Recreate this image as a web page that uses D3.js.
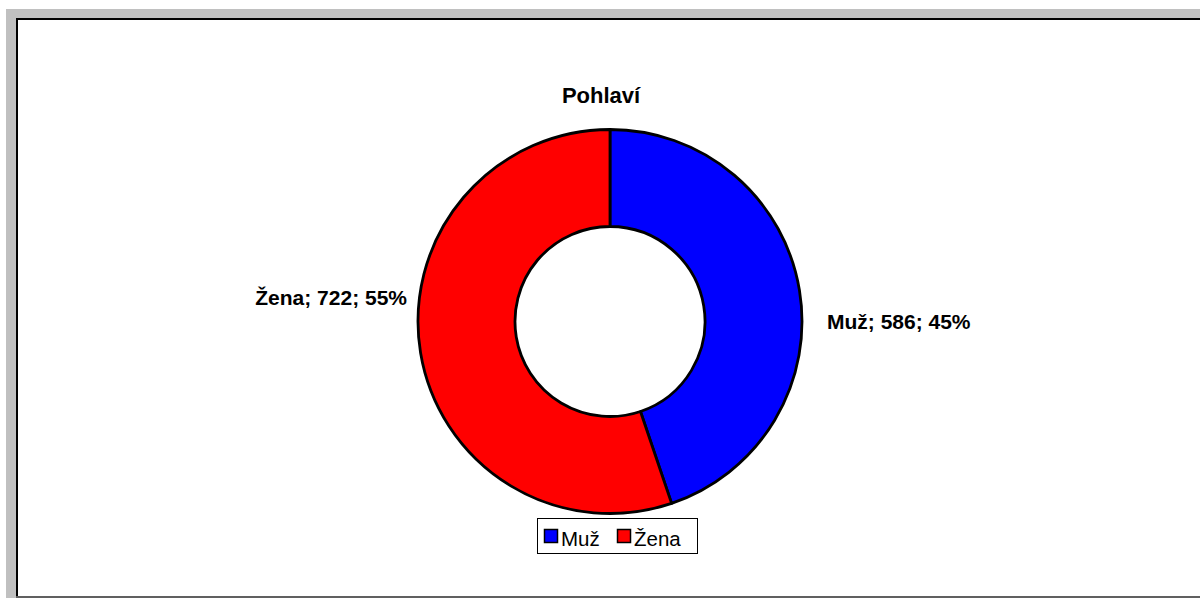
<!DOCTYPE html>
<html>
<head>
<meta charset="utf-8">
<script src="https://cdn.jsdelivr.net/npm/d3@7"></script>
<style>
  html, body { margin: 0; padding: 0; background: #fff; }
  svg { display: block; }
  text { font-family: "Liberation Sans", Arial, sans-serif; }
</style>
</head>
<body>
<svg id="chart" width="1200" height="598"></svg>
<script>
const categories = ["Muž", "Žena"];
const values = [586, 722];
const percents = ["45%", "55%"];
const colors = ["#0000ff", "#ff0000"];
const title = "Pohlaví";

const svg = d3.select("#chart");
const W = 1200, H = 598;

// frame
svg.append("rect").attr("x", 0).attr("y", 0).attr("width", W).attr("height", H).attr("fill", "#fff");
svg.append("rect").attr("x", 6).attr("y", 9).attr("width", W - 6).attr("height", H - 9).attr("fill", "#c0c0c0");
svg.append("rect").attr("x", 16).attr("y", 18).attr("width", W - 16).attr("height", H - 18).attr("fill", "#fff");
svg.append("line").attr("x1", 16).attr("x2", W).attr("y1", 19).attr("y2", 19).attr("stroke", "#000").attr("stroke-width", 2);
svg.append("line").attr("x1", 17).attr("x2", 17).attr("y1", 18).attr("y2", H).attr("stroke", "#000").attr("stroke-width", 2);
svg.append("line").attr("x1", 16).attr("x2", W).attr("y1", 597).attr("y2", 597).attr("stroke", "#606060").attr("stroke-width", 2);

// title
svg.append("text").attr("x", 601).attr("y", 103).attr("text-anchor", "middle")
  .attr("font-size", 22).attr("font-weight", "bold").attr("fill", "#000").text(title);

const cx = 610, cy = 321.5, outerR = 192, innerR = 95;
const data = categories.map((c, i) => ({ cat: c, value: values[i], pct: percents[i], color: colors[i] }));
const pie = d3.pie().value(d => d.value).sort(null);
const arcs = pie(data);
const arc = d3.arc().innerRadius(innerR).outerRadius(outerR);

const g = svg.append("g").attr("transform", `translate(${cx},${cy})`);
g.selectAll("path").data(arcs).enter().append("path")
  .attr("d", arc)
  .attr("fill", d => d.data.color)
  .attr("stroke", "#000")
  .attr("stroke-width", 2.8)
  .attr("stroke-linejoin", "round");

// data labels
const labelOffsets = [{ gap: 25, dy: 7.5 }, { gap: 11, dy: -16.5 }];
g.selectAll("text.lbl").data(arcs).enter().append("text")
  .attr("class", "lbl")
  .attr("x", (d, i) => {
    const mid = (d.startAngle + d.endAngle) / 2;
    const s = Math.sin(mid) >= 0 ? 1 : -1;
    return s * (outerR + labelOffsets[i].gap);
  })
  .attr("y", (d, i) => labelOffsets[i].dy)
  .attr("text-anchor", d => Math.sin((d.startAngle + d.endAngle) / 2) >= 0 ? "start" : "end")
  .attr("font-size", 21).attr("font-weight", "bold").attr("fill", "#000")
  .text(d => `${d.data.cat}; ${d.data.value}; ${d.data.pct}`);

// legend
const lg = svg.append("g").attr("transform", "translate(537,518)");
lg.append("rect").attr("x", 0.5).attr("y", 0.5).attr("width", 160).attr("height", 35)
  .attr("fill", "#fff").attr("stroke", "#000").attr("stroke-width", 1);
const itemX = [7, 80];
data.forEach((d, i) => {
  lg.append("rect").attr("x", itemX[i] + 0.5).attr("y", 11.5).attr("width", 13).attr("height", 13)
    .attr("fill", d.color).attr("stroke", "#000").attr("stroke-width", 1.5);
  lg.append("text").attr("x", itemX[i] + 17).attr("y", 28).attr("font-size", 20.5).attr("fill", "#000").text(d.cat);
});
</script>
</body>
</html>
